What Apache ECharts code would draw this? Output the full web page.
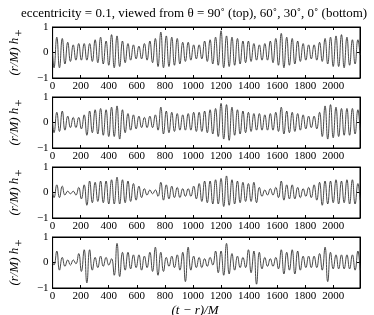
<!DOCTYPE html>
<html><head><meta charset="utf-8">
<script src="https://cdn.jsdelivr.net/npm/echarts@6/dist/echarts.min.js"></script>
<style>html,body{margin:0;padding:0;background:#fff}#c{width:374px;height:315px}</style>
</head><body><div id="c"></div>
<script>
// times of the local extrema (M), shared by the four panels
const times = [0,10,30,49,69,88,108,127,147,166,186,205,225,244,264,283,303,322,342,361,381,400,420,439,459,478,498,517,537,556,576,595,615,634,654,673,693,712,732,751,771,790,810,829,849,868,888,907,927,946,966,985,1005,1024,1044,1063,1083,1102,1122,1141,1161,1180,1200,1219,1239,1258,1278,1297,1317,1336,1356,1375,1395,1414,1434,1453,1473,1492,1512,1531,1551,1570,1590,1609,1629,1648,1668,1687,1707,1726,1746,1765,1785,1804,1824,1843,1863,1882,1902,1921,1941,1960,1980,1999,2019,2038,2058,2077,2097,2116,2136,2155,2175,2190];
// theta = 90 deg
const h90 = [0,-0.6,0.6,-0.6,0.55,-0.45,0.4,-0.35,0.3,-0.3,0.35,-0.3,0.35,-0.3,0.35,-0.35,0.5,-0.4,0.6,-0.45,0.45,-0.5,0.7,-0.6,0.65,-0.55,0.45,-0.4,0.35,-0.3,0.3,-0.25,0.25,-0.25,0.35,-0.3,0.45,-0.4,0.55,-0.55,0.8,-0.6,0.65,-0.55,0.6,-0.5,0.55,-0.45,0.4,-0.35,0.4,-0.3,0.3,-0.25,0.3,-0.25,0.45,-0.35,0.5,-0.45,0.6,-0.5,0.85,-0.6,0.65,-0.55,0.6,-0.5,0.55,-0.45,0.45,-0.4,0.45,-0.35,0.35,-0.3,0.3,-0.3,0.35,-0.3,0.45,-0.4,0.55,-0.5,0.75,-0.6,0.6,-0.5,0.55,-0.45,0.45,-0.35,0.35,-0.3,0.3,-0.25,0.3,-0.3,0.4,-0.35,0.55,-0.45,0.6,-0.55,0.65,-0.55,0.7,-0.6,0.6,-0.5,0.5,-0.45,0.5,-0.1];
// theta = 60 deg
const h60 = [0,-0.4,0.4,-0.35,0.45,-0.3,0.25,-0.2,0.2,-0.2,0.2,-0.25,0.3,-0.5,0.45,-0.4,0.5,-0.45,0.55,-0.5,0.5,-0.55,0.6,-0.55,0.65,-0.65,0.5,-0.4,0.35,-0.3,0.3,-0.25,0.25,-0.2,0.2,-0.2,0.25,-0.2,0.3,-0.3,0.6,-0.45,0.45,-0.4,0.4,-0.35,0.35,-0.3,0.3,-0.3,0.35,-0.3,0.4,-0.35,0.4,-0.35,0.45,-0.4,0.5,-0.45,0.55,-0.55,0.75,-0.65,0.7,-0.7,0.6,-0.5,0.5,-0.45,0.45,-0.4,0.4,-0.35,0.35,-0.3,0.35,-0.3,0.3,-0.3,0.35,-0.3,0.4,-0.35,0.6,-0.45,0.45,-0.4,0.4,-0.35,0.35,-0.3,0.3,-0.25,0.25,-0.2,0.25,-0.25,0.4,-0.55,0.65,-0.65,0.7,-0.6,0.6,-0.55,0.55,-0.5,0.55,-0.5,0.55,-0.45,0.5,-0.3];
// theta = 30 deg
const h30 = [0,-0.2,0.3,-0.2,0.25,-0.1,0.05,-0.05,0.05,-0.1,0.2,-0.25,0.3,-0.5,0.45,-0.4,0.4,-0.35,0.45,-0.4,0.45,-0.45,0.5,-0.45,0.6,-0.45,0.5,-0.4,0.45,-0.35,0.35,-0.3,0.25,-0.2,0.15,-0.1,0.1,-0.05,0.1,-0.15,0.4,-0.3,0.3,-0.25,0.25,-0.2,0.2,-0.2,0.15,-0.15,0.15,-0.15,0.25,-0.25,0.35,-0.35,0.45,-0.4,0.45,-0.45,0.5,-0.45,0.55,-0.55,0.65,-0.5,0.5,-0.45,0.45,-0.4,0.4,-0.35,0.35,-0.35,0.4,-0.4,0.2,-0.15,0.1,-0.1,0.15,-0.1,0.2,-0.2,0.45,-0.3,0.3,-0.25,0.3,-0.25,0.2,-0.2,0.15,-0.15,0.2,-0.2,0.3,-0.3,0.4,-0.5,0.45,-0.45,0.45,-0.4,0.5,-0.45,0.45,-0.4,0.5,-0.45,0.5,-0.45,0.35,-0.3];
// theta = 0 deg
const h0 = [0,-0.1,0.45,-0.3,0.2,-0.15,0.1,-0.1,0.1,-0.05,0.35,-0.35,0.5,-0.8,0.5,-0.3,0.2,-0.2,0.25,-0.15,0.2,-0.1,0.15,-0.5,0.75,-0.55,0.4,-0.3,0.4,-0.25,0.3,-0.2,0.3,-0.3,0.25,-0.2,0.4,-0.35,0.6,-0.5,0.4,-0.35,0.2,-0.15,0.25,-0.2,0.3,-0.3,0.4,-0.75,0.6,-0.3,0.25,-0.2,0.2,-0.2,0.15,-0.15,0.2,-0.1,0.45,-0.4,0.45,-0.5,0.75,-0.45,0.35,-0.3,0.25,-0.2,0.2,-0.2,0.5,-0.4,0.45,-0.85,0.4,-0.25,0.2,-0.15,0.15,-0.15,0.2,-0.25,0.5,-0.45,0.4,-0.3,0.5,-0.45,0.45,-0.3,0.25,-0.2,0.25,-0.2,0.25,-0.2,0.35,-0.3,0.6,-0.75,0.4,-0.25,0.3,-0.25,0.3,-0.25,0.3,-0.25,0.3,-0.3,0.45,-0.3];
const xTicks = [0,200,400,600,800,1000,1200,1400,1600,1800,2000];
const yTicks = [-1,0,1];
const panels = [h90, h60, h30, h0];
const titleText = 'eccentricity = 0.1, viewed from θ = 90˚ (top), 60˚, 30˚, 0˚ (bottom)';

const SERIF = '"Liberation Serif","Times New Roman",serif';
const tops = [27, 97, 167, 237];
const grids = [], xAxes = [], yAxes = [], series = [];
panels.forEach((vals, i) => {
  grids.push({left: 28, right: 14, top: tops[i], height: 51, show: true, borderColor: '#000', borderWidth: 1, backgroundColor: 'transparent'});
  const base = {gridIndex: i, type: 'value', min: 0, max: 2190, interval: 200,
    axisLine: {show: true, onZero: false, lineStyle: {color: '#000', width: 1}}, splitLine: {show: false}};
  xAxes.push(Object.assign({}, base, {position: 'bottom',
    axisTick: {inside: true, length: 3, lineStyle: {color: '#000'}},
    axisLabel: {margin: 3, color: '#000', fontFamily: SERIF, fontSize: 11,
      formatter: v => xTicks.indexOf(v) >= 0 ? String(v) : ''}}));
  xAxes.push(Object.assign({}, base, {position: 'top',
    axisTick: {inside: true, length: 3, lineStyle: {color: '#000'}}, axisLabel: {show: false}}));
  const ybase = {gridIndex: i, type: 'value', min: -1, max: 1, interval: 1,
    axisLine: {show: true, onZero: false, lineStyle: {color: '#000', width: 1}}, splitLine: {show: false}};
  yAxes.push(Object.assign({}, ybase, {position: 'left',
    axisTick: {inside: true, length: 3, lineStyle: {color: '#000'}},
    axisLabel: {margin: 4, color: '#000', fontFamily: SERIF, fontSize: 11,
      formatter: v => yTicks.indexOf(v) >= 0 ? (v < 0 ? '−' + Math.abs(v) : String(v)) : ''},
    name: '{i|(r/M) h}{p|+}', nameLocation: 'middle', nameGap: 12, nameRotate: 90,
    nameTextStyle: {rich: {
      i: {fontFamily: SERIF, fontStyle: 'italic', fontSize: 13, color: '#000'},
      p: {fontFamily: SERIF, fontSize: 13, color: '#000', padding: [10, 0, 0, 1]}}}}));
  yAxes.push(Object.assign({}, ybase, {position: 'right',
    axisTick: {inside: true, length: 3, lineStyle: {color: '#000'}}, axisLabel: {show: false}}));
  series.push({type: 'line', xAxisIndex: 2 * i, yAxisIndex: 2 * i, showSymbol: false, symbol: 'none',
    smooth: 0.5, lineStyle: {color: '#333', width: 0.9}, animation: false,
    data: times.map((t, k) => [t, vals[k]])});
});

const chart = echarts.init(document.getElementById('c'), null, {renderer: 'canvas'});
chart.setOption({
  animation: false,
  backgroundColor: '#fff',
  title: [
    {text: titleText, left: 189, top: 2, textAlign: 'center',
      textStyle: {fontFamily: SERIF, fontSize: 13, fontWeight: 'normal', color: '#000'}},
    {text: '(t − r)/M', left: 190, top: 299, textAlign: 'center',
      textStyle: {fontFamily: SERIF, fontSize: 13, fontStyle: 'italic', fontWeight: 'normal', color: '#000'}}
  ],
  grid: grids, xAxis: xAxes, yAxis: yAxes, series: series
});
</script></body></html>
